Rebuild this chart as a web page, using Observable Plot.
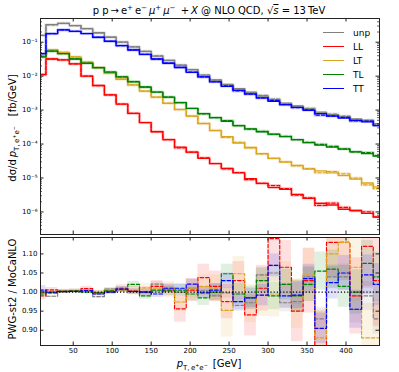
<!DOCTYPE html>
<html>
<head>
<meta charset="utf-8">
<script src="https://cdn.jsdelivr.net/npm/d3@7"></script>
<script src="https://cdn.jsdelivr.net/npm/@observablehq/plot@0.6"></script>
<style>
  html, body { margin: 0; padding: 0; background: #fff; }
  #root { position: relative; width: 399px; height: 372px; font-family: "DejaVu Sans", sans-serif; color: #000; overflow: hidden; }
  #root svg { position: absolute; left: 0; }
  .lbl { position: absolute; white-space: nowrap; line-height: 1; }
  .rot { transform: translate(-50%, -50%) rotate(-90deg); }
  sub, sup { font-size: 70%; line-height: 0; }
  .leg { position: absolute; left: 320px; top: 26px; font-size: 9px; }
  .leg div { height: 13.9px; display: flex; align-items: center; }
  .leg span.sw { display: inline-block; width: 21px; height: 0; border-top: 1.4px solid; margin-right: 9px; margin-left: 3px; }
</style>
</head>
<body>
<div id="root"></div>
<script>
// ---------- data ----------
const binEdges = [0,15,30,45,60,75,90,105,120,135,150,165,180,195,210,225,240,255,270,285,300,315,330,345,360,375,390,405,420,435,450];

const seriesNames = ["unp", "LL", "LT", "TL", "TT"];
const seriesColors = ["grey", "red", "goldenrod", "green", "blue"];

// MoCaNLO differential cross sections [fb/GeV]
const unp = [0.16,0.33,0.36,0.31,0.25,0.19,0.14,0.10,0.073,0.054,0.039,0.029,0.021,0.0155,0.0108,0.0077,0.0057,0.0043,0.0034,0.0026,0.0020,0.0016,0.00133,0.00108,0.00087,0.00073,0.00064,0.00055,0.00050,0.00040];
const LL  = [0.0112,0.032,0.030,0.023,0.0100,0.0053,0.0028,0.0015,0.00080,0.00043,0.00023,0.000135,0.000081,0.0000575,0.000038,0.0000263,0.0000191,0.0000141,0.0000095,0.0000069,0.0000052,0.0000046,0.0000033,0.0000025,0.0000018,0.0000016,0.0000012,0.0000011,0.0000009,0.0000007];
const LT  = [0.040,0.060,0.050,0.037,0.026,0.0178,0.012,0.0081,0.0055,0.0036,0.0024,0.00158,0.00105,0.00066,0.00040,0.00025,0.000166,0.000107,0.000079,0.000052,0.000038,0.0000295,0.0000234,0.0000182,0.0000162,0.0000141,0.0000117,0.0000093,0.0000071,0.0000055];
const TL  = [0.037,0.055,0.046,0.032,0.024,0.0178,0.0132,0.0095,0.0068,0.0048,0.0034,0.0024,0.00166,0.00112,0.00079,0.00060,0.00047,0.00035,0.00028,0.00023,0.000195,0.000166,0.000135,0.00011,0.000093,0.000081,0.000071,0.000059,0.000052,0.000044];
const TT  = [0.046,0.18,0.23,0.21,0.18,0.14,0.107,0.079,0.059,0.044,0.032,0.024,0.018,0.013,0.0095,0.0068,0.0050,0.0038,0.0030,0.0023,0.0018,0.00145,0.0012,0.00098,0.00079,0.00066,0.00058,0.00050,0.00045,0.00035];

// ratio PWG-st2 / MoCaNLO
const rUnp = [1.000,0.989,1.000,1.001,1.002,0.988,1.008,1.004,1.001,1.000,1.021,1.008,1.000,1.010,1.003,0.990,0.998,0.965,0.972,1.045,1.050,0.972,0.975,1.040,0.930,1.040,1.040,0.955,0.990,0.930];
const rLL  = [0.990,1.006,1.002,1.004,1.009,0.998,1.002,1.010,1.004,1.001,1.015,1.005,0.956,1.005,1.038,1.015,0.975,1.030,0.940,1.010,1.140,1.065,0.950,1.030,0.860,1.130,1.130,0.990,1.120,1.030];
const rLT  = [1.000,1.000,1.003,1.003,1.005,0.997,1.003,1.006,1.003,1.011,1.010,1.012,0.974,1.010,1.015,1.010,0.952,1.048,0.970,0.992,0.995,1.020,0.970,1.045,0.880,1.100,1.130,1.065,0.880,0.880];
const rTL  = [0.995,1.000,1.002,1.003,1.000,0.998,1.003,1.007,1.020,0.990,1.005,1.003,1.005,0.995,0.985,1.000,1.048,0.995,0.985,1.030,0.990,1.020,0.990,1.020,1.055,1.060,1.015,1.000,1.075,1.040];
const rTT  = [1.005,0.998,1.002,1.002,1.004,0.995,1.000,1.008,1.002,1.000,0.995,1.010,1.010,1.021,0.998,1.005,1.030,0.975,0.985,0.992,1.070,0.990,0.992,1.035,0.905,1.025,1.050,0.955,1.045,1.020];

// ratio uncertainty half-widths
const uUnp = [0.005,0.003,0.003,0.003,0.003,0.004,0.004,0.005,0.006,0.006,0.007,0.008,0.009,0.010,0.011,0.012,0.014,0.016,0.018,0.020,0.022,0.024,0.026,0.028,0.030,0.032,0.034,0.036,0.038,0.040];
const uLL  = [0.010,0.006,0.005,0.005,0.006,0.007,0.008,0.009,0.011,0.013,0.015,0.018,0.035,0.030,0.035,0.040,0.045,0.050,0.055,0.060,0.075,0.070,0.080,0.085,0.090,0.090,0.100,0.100,0.110,0.120];
const uLT  = [0.008,0.005,0.004,0.004,0.005,0.006,0.007,0.008,0.010,0.012,0.013,0.015,0.025,0.025,0.030,0.035,0.070,0.045,0.050,0.055,0.060,0.060,0.065,0.070,0.075,0.080,0.085,0.090,0.090,0.100];
const uTL  = [0.006,0.004,0.003,0.003,0.004,0.005,0.006,0.007,0.008,0.009,0.010,0.012,0.015,0.018,0.020,0.022,0.025,0.028,0.030,0.033,0.036,0.040,0.042,0.045,0.050,0.050,0.055,0.058,0.060,0.065];
const uTT  = [0.012,0.004,0.003,0.003,0.003,0.004,0.005,0.006,0.007,0.008,0.009,0.010,0.012,0.013,0.015,0.017,0.020,0.022,0.025,0.028,0.030,0.033,0.035,0.038,0.040,0.043,0.046,0.050,0.052,0.055];

// axis ticks
const xTicks = [50,100,150,200,250,300,350,400];
const yTicks = [1e-6,1e-5,1e-4,1e-3,1e-2,1e-1];
const rTicks = [0.90,0.95,1.00,1.05,1.10];

// ---------- build ----------
const values = [unp, LL, LT, TL, TT];
const ratios = [rUnp, rLL, rLT, rTL, rTT];
const uncs = [uUnp, uLL, uLT, uTL, uTT];

function steps(vals) {
  const pts = vals.map((v, i) => ({x: binEdges[i], y: v}));
  pts.push({x: binEdges[vals.length], y: vals[vals.length - 1]});
  return pts;
}

const W = 399, mL = 40, mR = 20;
const fw = W - mL - mR;
const xDom = [8, 443];
const frameColor = "#222";

const supMap = {"-": "\u207B", "0": "\u2070", "1": "\u00B9", "2": "\u00B2", "3": "\u00B3", "4": "\u2074", "5": "\u2075", "6": "\u2076", "7": "\u2077", "8": "\u2078", "9": "\u2079"};
const logFmt = d => "10" + String(Math.round(Math.log10(d))).split("").map(c => supMap[c]).join("");

const minorY = [];
for (let e = -7; e <= 0; e++) for (let m = 2; m <= 9; m++) {
  const v = m * Math.pow(10, e);
  if (v > 2.16e-7 && v < 0.5) minorY.push(v);
}

// top panel
const H1 = 240, mT1 = 18, mB1 = 6;
const fh1 = H1 - mT1 - mB1;
const topMarks = [];
values.forEach((vals, s) => {
  const dashed = vals.map((v, i) => v * ratios[s][i]);
  topMarks.push(Plot.line(steps(dashed), {x: "x", y: "y", curve: "step-after", stroke: seriesColors[s], strokeWidth: 3.2, strokeOpacity: 0.22, clip: true}));
});
values.forEach((vals, s) => {
  topMarks.push(Plot.line(steps(vals), {x: "x", y: "y", curve: "step-after", stroke: seriesColors[s], strokeWidth: 1.3, clip: true}));
  const dashed = vals.map((v, i) => v * ratios[s][i]);
  topMarks.push(Plot.line(steps(dashed), {x: "x", y: "y", curve: "step-after", stroke: seriesColors[s], strokeWidth: 1.2, strokeDasharray: "3.5,2", clip: true}));
});
topMarks.push(
  Plot.tickY(yTicks, {y: d => d, insetRight: fw - 3.5, stroke: frameColor}),
  Plot.tickY(yTicks, {y: d => d, insetLeft: fw - 3.5, stroke: frameColor}),
  Plot.tickY(minorY, {y: d => d, insetRight: fw - 2, stroke: frameColor, strokeWidth: 0.7}),
  Plot.tickY(minorY, {y: d => d, insetLeft: fw - 2, stroke: frameColor, strokeWidth: 0.7}),
  Plot.tickX(xTicks, {x: d => d, insetTop: fh1 - 3.5, stroke: frameColor}),
  Plot.tickX(xTicks, {x: d => d, insetBottom: fh1 - 3.5, stroke: frameColor}),
  Plot.axisY({ticks: yTicks, tickFormat: logFmt, tickSize: 0, tickPadding: 3, label: null}),
  Plot.frame({stroke: frameColor, strokeWidth: 1})
);
const topChart = Plot.plot({
  width: W, height: H1, marginTop: mT1, marginBottom: mB1, marginLeft: mL, marginRight: mR,
  x: {domain: xDom, axis: null},
  y: {type: "log", domain: [2.16e-7, 0.5], axis: null},
  style: {fontFamily: "DejaVu Sans", fontSize: "7px", background: "transparent", color: "#000"},
  marks: topMarks
});
topChart.style.top = "0px";

// bottom panel
const H2 = 142, mT2 = 7, mB2 = 27;
const fh2 = H2 - mT2 - mB2;
const botMarks = [];
const bandOrder = [0, 1, 2, 3, 4];
bandOrder.forEach(s => {
  const rows = ratios[s].map((r, i) => ({x1: binEdges[i], x2: binEdges[i + 1], y1: r - uncs[s][i], y2: r + uncs[s][i]}));
  botMarks.push(Plot.rect(rows, {x1: "x1", x2: "x2", y1: "y1", y2: "y2", fill: seriesColors[s], fillOpacity: 0.12, clip: true}));
});
bandOrder.forEach(s => {
  botMarks.push(Plot.line(steps(ratios[s]), {x: "x", y: "y", curve: "step-after", stroke: seriesColors[s], strokeWidth: 1.2, strokeDasharray: "3.5,2", clip: true}));
});
botMarks.push(
  Plot.ruleY([1], {stroke: "#000", strokeWidth: 1.2, strokeDasharray: "1.2,2"}),
  Plot.tickY(rTicks, {y: d => d, insetRight: fw - 3.5, stroke: frameColor}),
  Plot.tickY(rTicks, {y: d => d, insetLeft: fw - 3.5, stroke: frameColor}),
  Plot.tickX(xTicks, {x: d => d, insetTop: fh2 - 3.5, stroke: frameColor}),
  Plot.tickX(xTicks, {x: d => d, insetBottom: fh2 - 3.5, stroke: frameColor}),
  Plot.axisY({ticks: rTicks, tickFormat: d3.format(".2f"), tickSize: 0, tickPadding: 3, label: null}),
  Plot.axisX({ticks: xTicks, tickFormat: d3.format("d"), tickSize: 0, tickPadding: 3, label: null}),
  Plot.frame({stroke: frameColor, strokeWidth: 1})
);
const botChart = Plot.plot({
  width: W, height: H2, marginTop: mT2, marginBottom: mB2, marginLeft: mL, marginRight: mR,
  x: {domain: xDom, axis: null},
  y: {domain: [0.86, 1.143], axis: null},
  style: {fontFamily: "DejaVu Sans", fontSize: "7px", background: "transparent", color: "#000"},
  marks: botMarks
});
botChart.style.top = "230px";

const root = document.getElementById("root");
root.appendChild(topChart);
root.appendChild(botChart);

// texts
root.insertAdjacentHTML("beforeend", `
  <div class="lbl" style="left:209px; top:11px; transform:translate(-50%,-50%); font-size:10px;">p p\u2009\u2192\u2009e<sup>+</sup>\u2009e<sup>\u2212</sup>\u2009<i>\u03BC</i><sup>+</sup>\u2009<i>\u03BC</i><sup>\u2212</sup> \u2009+\u2009<i>X</i> @ NLO QCD, \u221A<span style="text-decoration:overline"><i>s</i></span> = 13\u2009TeV</div>
  <div class="lbl rot" style="left:13px; top:128px; font-size:10px;">d\u03C3/d\u2009<i>p</i><sub>T,\u2009e<sup>+</sup>e<sup>\u2212</sup></sub>\u2003[fb/GeV]</div>
  <div class="lbl rot" style="left:13px; top:289px; font-size:10px;">PWG-st2 / MoCaNLO</div>
  <div class="lbl" style="left:209px; top:364px; transform:translate(-50%,-50%); font-size:10px;"><i>p</i><sub>T,\u2009e<sup>+</sup>e<sup>\u2212</sup></sub>\u2002[GeV]</div>
`);
const leg = document.createElement("div");
leg.className = "leg";
seriesNames.forEach((n, s) => {
  const row = document.createElement("div");
  row.innerHTML = `<span class="sw" style="border-color:${seriesColors[s]}"></span><span>${n}</span>`;
  leg.appendChild(row);
});
root.appendChild(leg);
</script>
</body>
</html>
